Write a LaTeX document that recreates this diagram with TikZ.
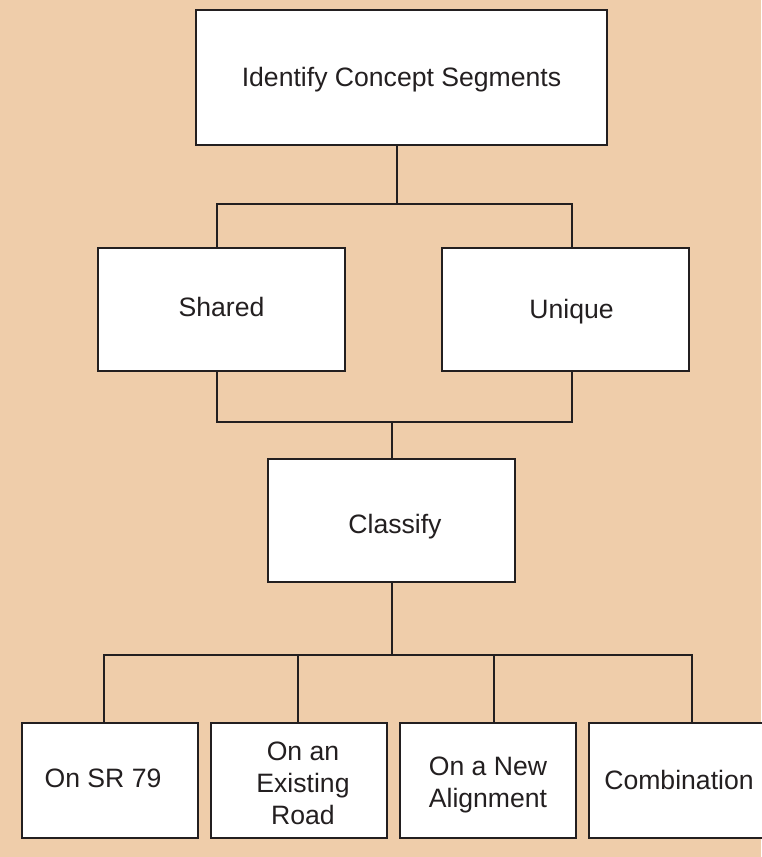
\documentclass[tikz,border=0pt]{standalone}
\usepackage{fontspec}
\setmainfont{Liberation Sans}
\usetikzlibrary{calc}
\definecolor{bgpeach}{RGB}{239,205,170}
\definecolor{ink}{RGB}{35,31,32}
\begin{document}
\begin{tikzpicture}[x=1pt,y=-1pt,
  box/.style={draw=ink,fill=white,line width=2.9pt,inner sep=0pt,outer sep=0pt},
  lab/.style={inner sep=0pt,align=center,text=ink,font=\fontsize{26.6}{32}\selectfont},
  conn/.style={draw=ink,line width=2.8pt}]
\fill[bgpeach] (0,0) rectangle (761,857);
\useasboundingbox (0,0) rectangle (761,857);
\node[box,minimum width=411pt,minimum height=135pt,
  label={[lab,yshift=-2pt]center:Identify Concept Segments}] (top) at (401.5,77.5) {};
\node[box,minimum width=247pt,minimum height=123pt,
  label={[lab,yshift=3pt]center:Shared}] (shared) at (221.5,309.5) {};
\node[box,minimum width=247pt,minimum height=123pt,
  label={[lab,xshift=6pt,yshift=-2pt]center:Unique}] (unique) at (565.5,309.5) {};
\node[box,minimum width=247pt,minimum height=123pt,
  label={[lab,xshift=3.5pt,yshift=-6pt]center:Classify}] (classify) at (391.5,520.5) {};
\node[box,minimum width=176pt,minimum height=115pt,
  label={[lab,xshift=-7pt,yshift=2pt]center:On SR 79}] (b1) at (110,780.5) {};
\node[box,minimum width=176pt,minimum height=115pt,
  label={[lab,xshift=4pt,yshift=-3pt]center:{On an\\Existing\\Road}}] (b2) at (299,780.5) {};
\node[box,minimum width=176pt,minimum height=115pt,
  label={[lab,yshift=-4pt]center:{On a New\\Alignment}}] (b3) at (488,780.5) {};
\node[box,minimum width=176pt,minimum height=115pt,
  label={[lab,xshift=2pt,yshift=1pt]center:Combination}] (b4) at (677,780.5) {};
% top to second row
\coordinate (j1) at ($(top.south)+(-4.5,59)$);
\draw[conn] ($(top.south)+(-4.5,0)$) -- (j1);
\draw[conn] ($(shared.north)+(-4.5,0)$) |- (j1) -| ($(unique.north)+(6.5,0)$);
% second row to classify
\coordinate (j2) at ($(classify.north)+(0.5,-37)$);
\draw[conn] ($(shared.south)+(-4.5,0)$) |- (j2) -| ($(unique.south)+(6.5,0)$);
\draw[conn] (j2) -- ($(classify.north)+(0.5,0)$);
% classify to bottom row
\coordinate (j3) at ($(classify.south)+(0.5,73)$);
\draw[conn] ($(classify.south)+(0.5,0)$) -- (j3);
\draw[conn] ($(b1.north)+(-6,0)$) |- (j3) -| ($(b4.north)+(15,0)$);
\coordinate (b2n) at ($(b2.north)+(-1,0)$);
\coordinate (b3n) at ($(b3.north)+(6,0)$);
\draw[conn] (b2n) -- (b2n |- j3);
\draw[conn] (b3n) -- (b3n |- j3);
\end{tikzpicture}
\end{document}
